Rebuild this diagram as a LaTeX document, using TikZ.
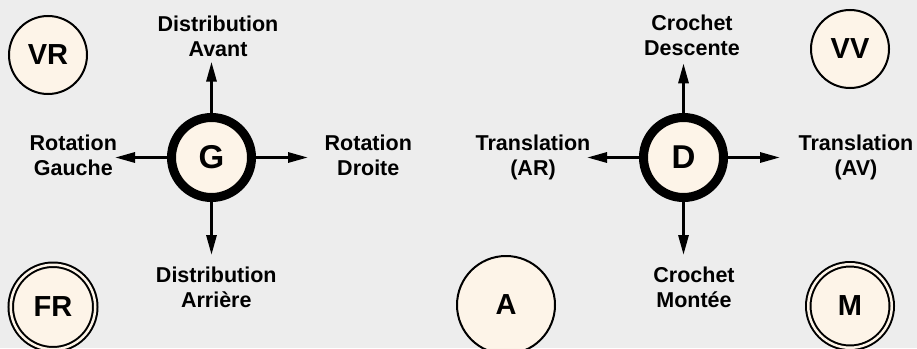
\documentclass[tikz,border=0pt]{standalone}
\usepackage{fontspec}
\setmainfont{Liberation Sans}
\usetikzlibrary{arrows.meta}
\definecolor{bgcol}{HTML}{EDEDED}
\definecolor{discfill}{HTML}{FDF4E8}
\tikzset{
  disc/.style={circle, draw=black, fill=discfill, line width=2pt, inner sep=0pt,
    font=\fontsize{29}{31}\selectfont\bfseries},
  twodisc/.style={disc, line width=2pt, double=discfill, double distance=2.5pt},
  hub/.style={circle, draw=black, fill=discfill, line width=9pt, inner sep=0pt,
    minimum size=80pt, font=\fontsize{33}{35}\selectfont\bfseries},
  move/.style={line width=3pt, -{Triangle[length=20pt,width=10pt]}},
  tag/.style={anchor=north, align=center, inner sep=0pt,
    font=\fontsize{21.5}{25}\selectfont\bfseries}
}
\begin{document}
\begin{tikzpicture}[x=1pt,y=-1pt]
  % canvas
  \fill[bgcol] (0,0) rectangle (917,348);
  \useasboundingbox (0,0) rectangle (917,348);

  % corner and bottom states
  \node[disc, minimum size=78pt] (vr) at (48,55) {VR};
  \node[disc, minimum size=78pt] (vv) at (850,49) {VV};
  \node[disc, minimum size=98pt] (a) at (506,305) {A};
  \node[twodisc, minimum size=84.5pt] (fr) at (53,307) {FR};
  \node[twodisc, minimum size=83.5pt] (m) at (850,306) {M};

  % left and right controllers
  \node[hub] (g) at (211.5,157.5) {G};
  \node[hub] (d) at (683.5,157.5) {D};

  % arrow ends
  \coordinate (gN) at (211.5,61.7);
  \coordinate (gS) at (211.5,255);
  \coordinate (gW) at (115,157.5);
  \coordinate (gE) at (308,157.5);
  \coordinate (dN) at (683.5,63.3);
  \coordinate (dS) at (683.5,255);
  \coordinate (dW) at (587,157.5);
  \coordinate (dE) at (780,157.5);

  \draw[move] (g.north) -- (gN);
  \draw[move] (g.south) -- (gS);
  \draw[move] (g.west) -- (gW);
  \draw[move] (g.east) -- (gE);
  \draw[move] (d.north) -- (dN);
  \draw[move] (d.south) -- (dS);
  \draw[move] (d.west) -- (dW);
  \draw[move] (d.east) -- (dE);

  % direction labels
  \node[tag] (lgN) at (218,16) {Distribution\\Avant};
  \node[tag] (lgS) at (216.3,266.7) {Distribution\\Arrière};
  \node[tag] (lgW) at (73.3,135) {Rotation\\Gauche};
  \node[tag] (lgE) at (368.3,135) {Rotation\\Droite};
  \node[tag] (ldN) at (692,15) {Crochet\\Descente};
  \node[tag] (ldS) at (694,266.7) {Crochet\\Montée};
  \node[tag] (ldW) at (533,135) {Translation\\(AR)};
  \node[tag] (ldE) at (856,135) {Translation\\(AV)};
\end{tikzpicture}
\end{document}
